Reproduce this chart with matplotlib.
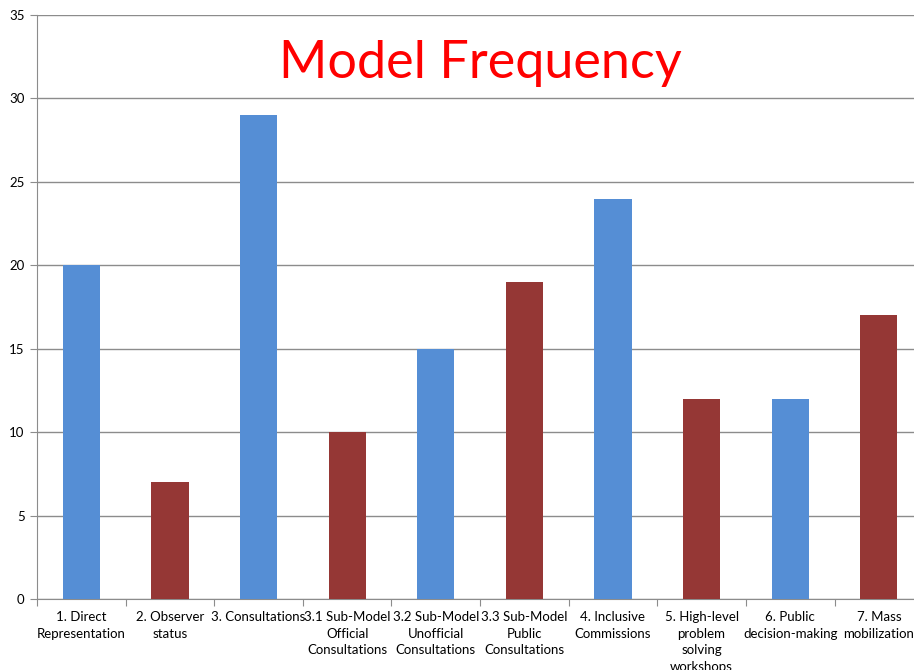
import matplotlib.pyplot as plt
import numpy as np

plt.rcParams['font.family'] = ['Lato', 'DejaVu Sans']

categories = [
    "1. Direct\nRepresentation",
    "2. Observer\nstatus",
    "3. Consultations",
    "3.1 Sub-Model\nOfficial\nConsultations",
    "3.2 Sub-Model\nUnofficial\nConsultations",
    "3.3 Sub-Model\nPublic\nConsultations",
    "4. Inclusive\nCommissions",
    "5. High-level\nproblem\nsolving\nworkshops",
    "6. Public\ndecision-making",
    "7. Mass\nmobilization",
]
frequency = [20, 7, 29, 10, 15, 19, 24, 12, 12, 17]
bar_colors = ["#558ED5", "#953735"] * 5

fig = plt.figure(figsize=(9.14, 6.70), dpi=100)
ax = fig.add_axes([0.0405, 0.106, 0.9695, 0.8716])

x = np.arange(len(categories))
ax.bar(x, frequency, width=0.42, color=bar_colors, zorder=3)

ax.set_xlim(-0.5, len(categories) - 0.5)
ax.set_ylim(0, 35)
ax.set_yticks(range(0, 36, 5))
ax.yaxis.grid(True, color="#8c8c8c", linewidth=1.0, zorder=0)

# category ticks sit between the bars
ax.set_xticks(np.arange(-0.5, len(categories), 1.0))
ax.set_xticklabels([])
ax.set_xticks(x, minor=True)
ax.set_xticklabels(categories, minor=True, fontsize=9.5, linespacing=1.45)
ax.tick_params(axis="x", which="minor", length=0, pad=9)
ax.tick_params(axis="x", which="major", length=5, color="#8c8c8c")
ax.tick_params(axis="y", length=5, color="#8c8c8c", labelsize=9.5, pad=4)

for side in ("top", "right"):
    ax.spines[side].set_visible(False)
for side in ("left", "bottom"):
    ax.spines[side].set_color("#8c8c8c")

ax.text(0.5, 32.1, "Model Frequency", transform=ax.get_yaxis_transform(),
        ha="center", va="center", fontsize=37.5, color="#FF0000")

fig.savefig("out.png", dpi=100)
